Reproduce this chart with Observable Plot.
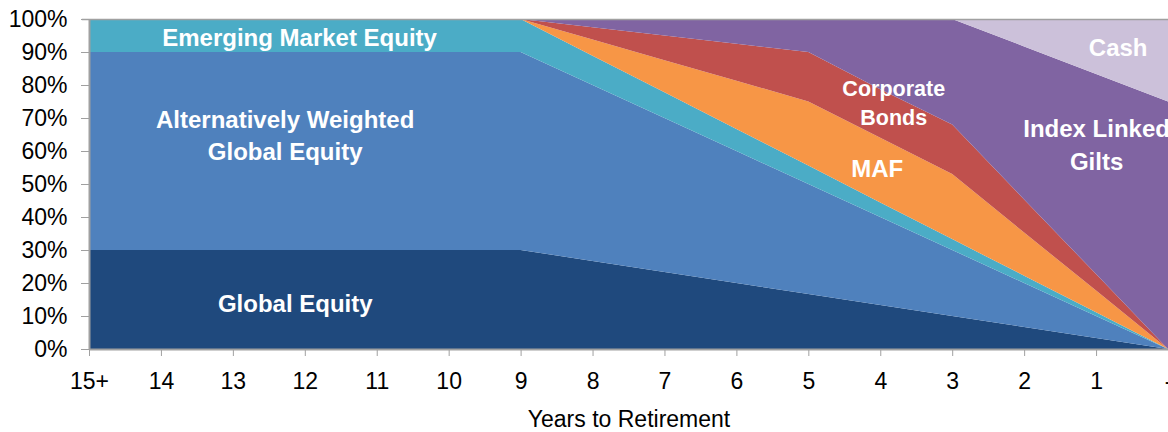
<!DOCTYPE html>
<html>
<head>
<meta charset="utf-8">
<script src="https://cdn.jsdelivr.net/npm/d3@7"></script>
<script src="https://cdn.jsdelivr.net/npm/@observablehq/plot@0.6"></script>
<style>
  html, body { margin: 0; padding: 0; background: white; }
  #chart { width: 1168px; height: 432px; overflow: hidden; }
</style>
</head>
<body>
<div id="chart"></div>
<script>
// Categories (years to retirement)
const years = ["15+","14","13","12","11","10","9","8","7","6","5","4","3","2","1","-"];

// Series (stacked bottom to top), % allocation
const seriesNames = [
  "Global Equity",
  "Alternatively Weighted Global Equity",
  "Emerging Market Equity",
  "MAF",
  "Corporate Bonds",
  "Index Linked Gilts",
  "Cash"
];
const globalEquity   = [30,30,30,30,30,30,30,26.7,23.3,20,16.7,13.3,10,6.7,3.3,0];
const altWeighted    = [60,60,60,60,60,60,60,53.3,46.7,40,33.3,26.7,20,13.3,6.7,0];
const emergingMkt    = [10,10,10,10,10,10,10,8.9,7.8,6.7,5.6,4.4,3.3,2.2,1.1,0];
const maf            = [0,0,0,0,0,0,0,4.9,9.7,14.6,19.4,19.6,19.7,13.1,6.6,0];
const corporateBonds = [0,0,0,0,0,0,0,3.7,7.5,11.2,15,14.7,15,10,5,0];
const indexLinked    = [0,0,0,0,0,0,0,2.5,5,7.5,10,21.3,32,46.4,60.6,75];
const cash           = [0,0,0,0,0,0,0,0,0,0,0,0,0,8.3,16.7,25];
const seriesColors = ["#1F497D","#4F81BD","#4BACC6","#F79646","#C0504D","#8064A2","#CCC1DA"];

const yTicks = [0,10,20,30,40,50,60,70,80,90,100];

// In-chart labels (text, x index, y %, font size)
const labelText = ["Emerging Market Equity","Alternatively Weighted\nGlobal Equity","Global Equity","Corporate\nBonds","MAF","Index Linked\nGilts","Cash"];
const labelX    = [2.92, 2.72, 2.86, 11.18, 10.95, 14.0, 14.3];
const labelY    = [95.0, 65.3, 14.6, 75.2, 55.5, 62.5, 92.2];
const labelSize = [24, 24, 24, 21.5, 24, 24, 24];

const allSeries = [globalEquity, altWeighted, emergingMkt, maf, corporateBonds, indexLinked, cash];
const data = [];
seriesNames.forEach((s, k) => {
  allSeries[k].forEach((v, i) => data.push({series: s, i, value: v}));
});
const labels = labelText.map((t, k) => ({text: t, x: labelX[k], y: labelY[k], size: labelSize[k]}));

const font = "'Liberation Sans', Arial, sans-serif";
const axisGray = "#A0A0A0";

const chart = Plot.plot({
  width: 1168,
  height: 432,
  marginLeft: 89,
  marginRight: 0,
  marginTop: 19,
  marginBottom: 83,
  style: {fontFamily: font, fontSize: "23px", color: "black", background: "white", overflow: "hidden"},
  x: {domain: [0, years.length - 1], range: [89, 1168]},
  y: {domain: [0, 100]},
  color: {domain: seriesNames, range: seriesColors},
  marks: [
    Plot.areaY(data, {x: "i", y: "value", fill: "series", order: seriesNames, curve: "linear"}),
    Plot.ruleY([100], {stroke: axisGray, strokeWidth: 1.5, x1: -0.1, x2: years.length - 1}),
    Plot.ruleX([0], {stroke: axisGray, strokeWidth: 2, y1: 0, y2: 100}),
    Plot.ruleY([0], {stroke: axisGray, strokeWidth: 2}),
    Plot.axisY({ticks: yTicks, tickFormat: d => d + "%", tickSize: 8, tickPadding: 14, stroke: axisGray, fill: "black", label: null, fontSize: 23}),
    Plot.axisX({ticks: d3.range(years.length), tickFormat: i => years[i], tickSize: 7, tickPadding: 16, stroke: axisGray, fill: "black", label: null, fontSize: 23}),
    Plot.text(["Years to Retirement"], {frameAnchor: "bottom", dy: 77, text: d => d, fontSize: 23, fill: "black"}),
    Plot.text(labels, {x: "x", y: "y", text: "text", fill: "white", fontWeight: "bold", fontSize: d => d.size, lineHeight: 1.34, textAnchor: "middle"})
  ]
});
document.getElementById("chart").appendChild(chart);
</script>
</body>
</html>
